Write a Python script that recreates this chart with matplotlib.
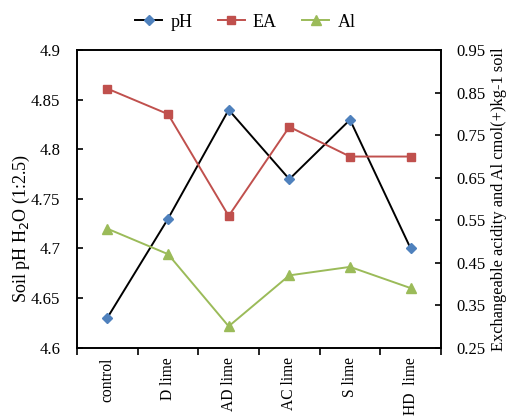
import matplotlib.pyplot as plt
import numpy as np

categories = ["control", "D lime", "AD lime", "AC lime", "S lime", "HD  lime"]
ph = [4.63, 4.73, 4.84, 4.77, 4.83, 4.70]
ea = [0.86, 0.80, 0.56, 0.77, 0.70, 0.70]
al = [0.53, 0.47, 0.30, 0.42, 0.44, 0.39]

plt.rcParams['font.family'] = ['Liberation Serif', 'DejaVu Serif']
plt.rcParams['font.size'] = 12

fig = plt.figure(figsize=(5.08, 4.19), dpi=100)
ax = fig.add_axes([0.1516, 0.1706, 0.7165, 0.709])
ax2 = ax.twinx()

x = np.arange(len(categories))
l1, = ax.plot(x, ph, color='black', lw=1.4, marker='D', ms=5.5,
              mfc='#4F81BD', mec='#4F81BD', label='pH', zorder=3)
l2, = ax2.plot(x, ea, color='#C0504D', lw=1.4, marker='s', ms=6,
               mfc='#C0504D', mec='#C0504D', label='EA')
l3, = ax2.plot(x, al, color='#9BBB59', lw=1.4, marker='^', ms=6.5,
               mfc='#9BBB59', mec='#9BBB59', label='Al')

ax.set_xlim(-0.5, len(categories) - 0.5)
ax.set_ylim(4.6, 4.9)
ax.set_yticks(np.arange(4.6, 4.901, 0.05))
ax.set_yticklabels(['4.6', '4.65', '4.7', '4.75', '4.8', '4.85', '4.9'])
ax2.set_ylim(0.25, 0.95)
ax2.set_yticks(np.arange(0.25, 0.951, 0.1))
ax2.set_yticklabels(['0.25', '0.35', '0.45', '0.55', '0.65', '0.75', '0.85', '0.95'])

ax.set_xticks(x)
ax.set_xticklabels(categories, rotation=90, fontsize=11.2)
ax.set_xticks(np.arange(-0.5, len(categories), 1), minor=True)
ax.tick_params(axis='x', which='major', length=0, pad=7)
ax.tick_params(axis='x', which='minor', length=5, width=1.2, direction='out')
ax.tick_params(axis='y', direction='in', length=4, width=1.2, pad=12)
ax2.tick_params(axis='y', direction='in', length=4, width=1.2, pad=11)

for a in (ax, ax2):
    for s in a.spines.values():
        s.set_linewidth(1.2)

ax.set_ylabel('Soil pH H$_2$O (1:2.5)', fontsize=13)
ax.yaxis.set_label_coords(-0.123, 0.40)
ax2.set_ylabel('Exchangeable acidity and Al cmol(+)kg-1 soil', fontsize=11.8, labelpad=4)

fig.legend([l1, l2, l3], ['pH', 'EA', 'Al'], loc='center', bbox_to_anchor=(0.483, 0.947),
           ncol=3, frameon=False, handlelength=1.5, handletextpad=0.45,
           columnspacing=1.4, fontsize=13)

fig.savefig('out.png', dpi=100)
